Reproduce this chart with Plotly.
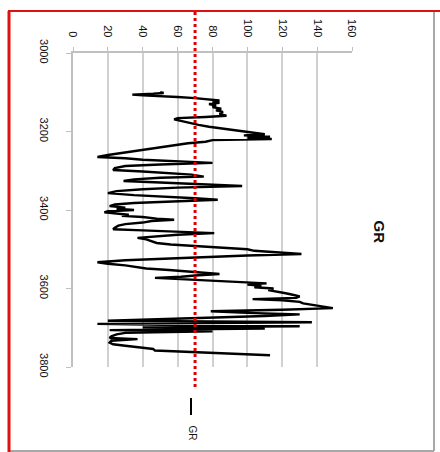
import plotly.graph_objects as go

# ---- data (depth in ft, GR in API) ----
depth = [3100, 3102, 3104, 3106, 3108, 3110, 3112, 3115, 3118, 3121, 3124, 3127, 3130, 3134, 3138,
         3142, 3146, 3150, 3155, 3160, 3163, 3166, 3169, 3173, 3178, 3183, 3188, 3193, 3198, 3203,
         3207, 3210, 3213, 3216, 3219, 3222, 3226, 3230, 3235, 3240, 3245, 3250, 3255, 3260, 3265,
         3268, 3272, 3276, 3280, 3284, 3288, 3293, 3298, 3302, 3306, 3310, 3315, 3318, 3322, 3326,
         3330, 3334, 3339, 3343, 3347, 3352, 3357, 3362, 3366, 3370, 3374, 3378, 3382, 3386, 3390,
         3394, 3397, 3400, 3403, 3406, 3409, 3412, 3415, 3418, 3422, 3425, 3428, 3432, 3436, 3440,
         3445, 3449, 3452, 3455, 3459, 3463, 3467, 3471, 3475, 3480, 3484, 3488, 3492, 3496, 3500,
         3504, 3508, 3512, 3516, 3520, 3524, 3528, 3533, 3537, 3541, 3545, 3549, 3553, 3558, 3563,
         3567, 3570, 3573, 3576, 3579, 3583, 3587, 3590, 3593, 3597, 3600, 3604, 3608, 3612, 3616,
         3620, 3624, 3627, 3630, 3634, 3638, 3642, 3646, 3650, 3654, 3658, 3662, 3666, 3670, 3674,
         3678, 3682, 3686, 3690, 3693, 3696, 3699, 3702, 3706, 3709, 3713, 3717, 3722, 3726, 3729,
         3733, 3738, 3742, 3746, 3750, 3754, 3758, 3762, 3766, 3770]
gr = [50, 52, 46, 34, 40, 57, 60, 70, 78, 84, 80, 84, 78, 82, 80,
      85, 82, 86, 84, 88, 76, 60, 58, 62, 66, 72, 78, 86, 94, 104,
      110, 98, 113, 100, 114, 80, 76, 66, 58, 52, 44, 34, 26, 20, 14,
      30, 40, 60, 80, 50, 30, 24, 23, 40, 55, 68, 75, 50, 35, 29,
      50, 70, 97, 60, 40, 25, 20, 35, 55, 70, 83, 60, 35, 24, 21,
      30, 25, 35, 20, 18, 26, 32, 28, 40, 48, 58, 45, 40, 30, 26,
      24, 23, 40, 60, 81, 60, 45, 37, 42, 46, 48, 56, 70, 85, 100,
      104, 115, 131, 100, 75, 50, 30, 14, 20, 30, 37, 42, 55, 68, 84,
      70, 62, 47, 60, 80, 95, 111, 100, 108, 104, 115, 112, 118, 122, 126,
      130, 128, 103, 120, 130, 132, 138, 144, 149, 120, 79, 100, 130, 110, 80,
      50, 20, 137, 14, 60, 130, 40, 110, 21, 80, 30, 25, 22, 21, 37,
      22, 21, 23, 30, 38, 46, 47, 70, 95, 113]

gr_ticks = [0, 20, 40, 60, 80, 100, 120, 140, 160]
depth_ticks = [3000, 3200, 3400, 3600, 3800]
cutoff = 70
series_name = "GR"
title_text = "GR"

W, H = 440, 452
L, R, T, B = 73, 88, 53, 85
pw, ph = W - L - R, H - T - B


def px(x):
    return (x - L) / pw


def py(y):
    return (H - B - y) / ph


fig = go.Figure()
fig.add_trace(go.Scatter(x=gr, y=depth, mode="lines", name=series_name,
                         line=dict(color="black", width=2.4), showlegend=False))

fig.update_layout(
    width=W, height=H,
    margin=dict(l=L, r=R, t=T, b=B),
    paper_bgcolor="white", plot_bgcolor="white",
    font=dict(family="Liberation Sans, Arial, sans-serif", color="#111", size=11),
    xaxis=dict(range=[0, 160], side="top", tickvals=gr_ticks, tickangle=90,
               showgrid=True, gridcolor="#d0d0d0", gridwidth=1.5,
               showline=True, linecolor="#c0c0c0", linewidth=1.5,
               ticks="outside", ticklen=4, tickcolor="#c0c0c0",
               ticklabelstandoff=6, zeroline=False,
               tickfont=dict(size=11, color="#111")),
    yaxis=dict(range=[3800, 3000], tickvals=depth_ticks, tickangle=90,
               showgrid=False, showline=True, linecolor="#c0c0c0", linewidth=1.5,
               ticks="outside", ticklen=5, tickcolor="#c0c0c0",
               ticklabelstandoff=13, zeroline=False,
               tickfont=dict(size=11, color="#111")),
)

shapes = []
# cutoff line
shapes.append(dict(type="line", xref="x", yref="paper", x0=cutoff, x1=cutoff,
                   y0=py(387), y1=py(12), line=dict(color="#e00000", width=3, dash="dot")))
# outer frame
shapes.append(dict(type="line", xref="paper", yref="paper", x0=px(434), x1=px(434),
                   y0=py(12), y1=py(451), line=dict(color="#a8a8a8", width=2)))
shapes.append(dict(type="line", xref="paper", yref="paper", x0=px(9), x1=px(434),
                   y0=py(451), y1=py(451), line=dict(color="#a8a8a8", width=2)))
shapes.append(dict(type="line", xref="paper", yref="paper", x0=px(9), x1=px(9),
                   y0=py(11), y1=py(452), line=dict(color="#e01010", width=3)))
shapes.append(dict(type="line", xref="paper", yref="paper", x0=px(8), x1=px(440),
                   y0=py(11), y1=py(11), line=dict(color="#e01010", width=2)))
# legend key line
shapes.append(dict(type="line", xref="paper", yref="paper", x0=px(191), x1=px(191),
                   y0=py(398), y1=py(415), line=dict(color="black", width=2)))
fig.update_layout(shapes=shapes)

fig.add_annotation(x=px(390), y=py(232), xref="paper", yref="paper", text=f"<b>{title_text}</b>",
                   textangle=90, showarrow=False, font=dict(size=15, color="#111"))
fig.add_annotation(x=px(192), y=py(442), xref="paper", yref="paper", text=series_name,
                   textangle=90, showarrow=False, font=dict(size=10, color="#111"))

fig.write_html("out.html", config={"displayModeBar": False},
               post_script="document.body.style.margin='0';document.body.style.overflow='hidden';")
